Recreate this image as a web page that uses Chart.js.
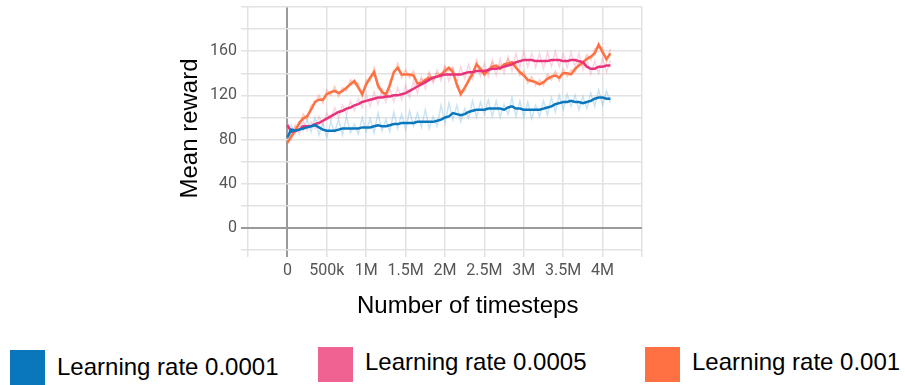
<!DOCTYPE html>
<html>
<head>
<meta charset="utf-8">
<script src="https://cdn.jsdelivr.net/npm/chart.js@4/dist/chart.umd.min.js"></script>
<style>
  body { margin: 0; background: #fff; }
  #wrap { position: relative; width: 905px; height: 385px; overflow: hidden; }
  #chart { position: absolute; left: 0; top: 0; }
  .box { position: absolute; width: 35px; height: 35px; }
  .lbl { position: absolute; font-family: "Liberation Sans", Arial, sans-serif; font-size: 24px; line-height: 28px; color: #000; white-space: nowrap; }
</style>
</head>
<body>
<div id="wrap">
  <canvas id="chart" width="905" height="330"></canvas>
  <div class="lbl" style="left:357px;top:291px">Number of timesteps</div>
  <div class="box" style="left:10px;top:350px;background:#0a77bd"></div>
  <div class="lbl" style="left:57px;top:353px">Learning rate 0.0001</div>
  <div class="box" style="left:318px;top:347px;background:#f06292"></div>
  <div class="lbl" style="left:365px;top:348px">Learning rate 0.0005</div>
  <div class="box" style="left:645px;top:347px;background:#ff7043"></div>
  <div class="lbl" style="left:692px;top:348px">Learning rate 0.001</div>
</div>
<script>
// --- data (timesteps in thousands) ---
const stepsK = [
  0,50,100,150,200,250,300,350,400,450,
  500,550,600,650,700,750,800,850,900,950,
  1000,1050,1100,1150,1200,1250,1300,1350,1400,1450,
  1500,1550,1600,1650,1700,1750,1800,1850,1900,1950,
  2000,2050,2100,2150,2200,2250,2300,2350,2400,2450,
  2500,2550,2600,2650,2700,2750,2800,2850,2900,2950,
  3000,3050,3100,3150,3200,3250,3300,3350,3400,3450,
  3500,3550,3600,3650,3700,3750,3800,3850,3900,3950,
  4000,4050,4100
];

// smoothed curves
const lr0001 = [
  82,89,88,89,90,91,92,93,91,89,
  88,88,88,89,90,90,90,90,90,91,
  91,91,92,93,92,92,93,94,94,95,
  95,95,95,96,96,96,96,96,97,98,
  100,101,104,103,102,103,105,106,107,107,
  107,108,108,108,108,107,109,110,108,108,
  107,107,107,107,107,108,109,110,112,113,
  114,114,115,114,114,113,114,115,117,118,
  118,117,117
];
const lr0005 = [
  93,87,88,89,92,92,92,94,95,97,
  99,101,103,105,106,108,109,111,112,114,
  115,116,117,118,118,119,119,120,120,121,
  122,124,126,128,130,132,134,136,137,138,
  139,139,139,139,139,140,141,141,142,142,
  142,143,144,144,145,146,147,148,150,151,
  152,152,152,151,151,151,151,152,152,152,
  151,151,152,152,151,150,146,144,144,146,
  146,147,147
];
const lr001 = [
  77,83,88,95,99,101,107,114,116,116,
  121,123,124,122,124,127,130,133,127,121,
  130,136,141,129,123,121,129,141,145,139,
  139,139,138,131,131,134,136,136,137,139,
  142,145,141,130,121,127,133,140,148,144,
  139,143,146,147,144,148,149,150,145,141,
  138,134,133,132,130,132,135,137,138,136,
  140,140,139,144,147,150,153,155,158,166,
  159,153,158
];

// raw (unsmoothed) curves
const lr0001Raw = [
  84,93,85,96,88,98,87,100,84,95,
  82,96,87,98,84,101,86,94,85,100,
  87,99,86,104,88,98,87,105,90,103,
  89,106,92,104,91,107,90,101,92,111,
  95,113,98,111,96,108,99,115,100,114,
  103,116,101,115,100,112,103,118,101,115,
  100,114,99,111,101,115,102,118,105,120,
  107,121,110,120,107,119,108,122,110,125,
  111,124,113
];
const lr0005Raw = [
  96,84,93,85,97,88,96,90,101,93,
  104,97,109,100,111,103,115,106,117,109,
  121,110,123,112,124,114,126,114,127,116,
  129,118,133,122,137,126,141,131,143,133,
  146,133,145,132,146,135,148,135,149,137,
  149,137,152,138,153,140,155,142,158,145,
  160,146,158,145,158,144,159,146,160,146,
  158,145,159,146,158,143,152,139,151,140,
  154,141,152
];
const lr001Raw = [
  79,80,92,92,103,98,111,112,120,113,
  125,120,128,119,127,124,134,130,131,118,
  134,133,145,126,126,118,133,139,149,136,
  143,136,142,128,135,131,140,133,141,136,
  146,142,145,127,124,124,137,137,152,141,
  143,140,150,144,148,145,153,147,149,138,
  142,131,137,129,134,129,139,134,142,133,
  144,137,143,141,151,147,157,152,162,163,
  163,150,162
];

const yLabels = [0, 40, 80, 120, 160];

function pts(vals) {
  return vals.map((v, i) => ({ x: stepsK[i] * 1000, y: v }));
}

function line(vals, color, width, order) {
  return { data: pts(vals), borderColor: color, borderWidth: width, pointRadius: 0, tension: 0, fill: false, order: order };
}

function fmtSteps(v) {
  if (v < 0 || v > 4000000) return '';
  if (v === 0) return '0';
  if (v < 1000000) return (v / 1000) + 'k';
  return (v / 1000000) + 'M';
}

const gridColor = c => (c.tick && c.tick.value === 0) ? '#9a9a9a' : '#e2e2e2';
const gridWidth = c => (c.tick && c.tick.value === 0) ? 2 : 1.5;

new Chart(document.getElementById('chart').getContext('2d'), {
  type: 'line',
  data: {
    datasets: [
      line(lr0001Raw, 'rgba(120,190,230,0.4)', 1.5, 5),
      line(lr0005Raw, 'rgba(240,120,160,0.3)', 1.5, 5),
      line(lr001Raw, 'rgba(255,112,67,0.35)', 1.5, 4),
      line(lr0001, '#0a77bd', 2.5, 1),
      line(lr0005, '#e8337a', 2.5, 2),
      line(lr001, '#ff7043', 2.5, 3)
    ]
  },
  options: {
    responsive: false,
    animation: false,
    layout: { padding: { left: 170, right: 263, top: 7, bottom: 10 } },
    plugins: { legend: { display: false }, tooltip: { enabled: false } },
    scales: {
      x: {
        type: 'linear', min: -500000, max: 4500000,
        ticks: {
          stepSize: 500000, autoSkip: false, maxRotation: 0, padding: 4,
          color: '#555', font: { family: 'Roboto', size: 16 },
          callback: v => fmtSteps(v)
        },
        grid: { color: gridColor, lineWidth: gridWidth, tickLength: 7 },
        border: { display: false },
        afterFit: s => { s.height = 70; s.paddingLeft = 0; s.paddingRight = 0; }
      },
      y: {
        min: -20, max: 200,
        ticks: {
          stepSize: 20, autoSkip: false, padding: 4,
          color: '#555', font: { family: 'Roboto', size: 16 },
          callback: v => yLabels.includes(v) ? String(v) : ''
        },
        grid: { color: gridColor, lineWidth: gridWidth, tickLength: 7 },
        border: { display: false },
        title: { display: true, text: 'Mean reward', color: '#000',
          font: { family: 'Liberation Sans', size: 24 }, padding: { top: 6, bottom: 0 } },
        afterFit: s => { s.width = 78; s.paddingTop = 0; s.paddingBottom = 0; }
      }
    }
  }
});
</script>
</body>
</html>
